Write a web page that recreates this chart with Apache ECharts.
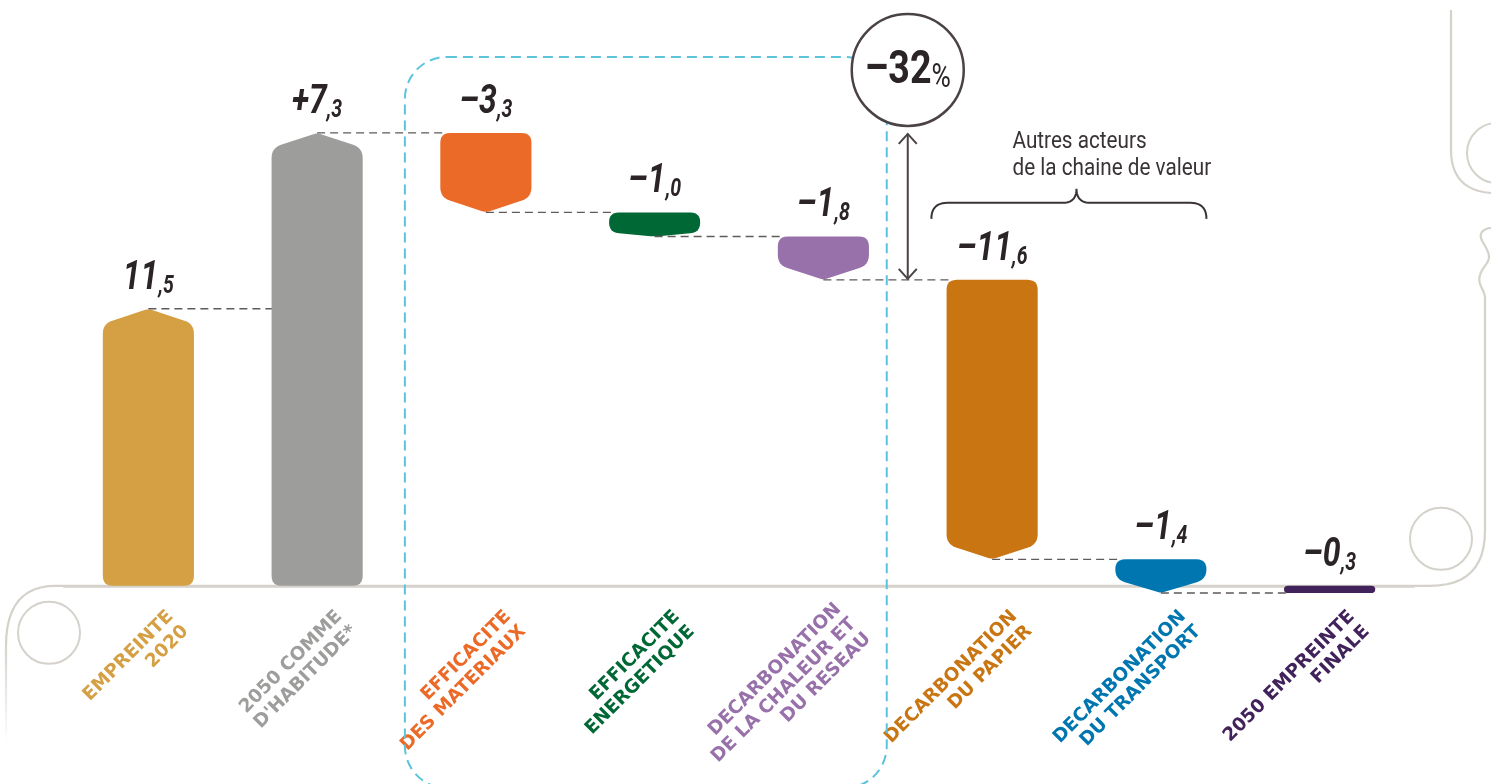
<!DOCTYPE html>
<html><head><meta charset="utf-8">
<script src="https://cdn.jsdelivr.net/npm/echarts@6/dist/echarts.min.js"></script>
<style>html,body{margin:0;padding:0;background:#fff;}#c{width:1491px;height:784px;}</style>
</head><body><div id="c"></div>
<script>
const categories = ['EMPREINTE\n2020', "2050 COMME\nD'HABITUDE*", 'EFFICACITE\nDES MATERIAUX', 'EFFICACITE\nENERGETIQUE', 'DECARBONATION\nDE LA CHALEUR ET\nDU RESEAU', 'DECARBONATION\nDU PAPIER', 'DECARBONATION\nDU TRANSPORT', '2050 EMPREINTE\nFINALE'];
const values = [11.5, 7.3, -3.3, -1.0, -1.8, -11.6, -1.4, -0.3];
// total: bar from 0 to value; cumul: increment drawn as a full bar from 0; delta: floating step
const kinds = ['total', 'cumul', 'delta', 'delta', 'delta', 'delta', 'delta', 'total'];
const barColors = ['#d5a044', '#9d9d9c', '#ec6a28', '#006834', '#9871aa', '#c97612', '#0076b0', '#41225a'];
const labelColors = ['#d5a044', '#9d9d9c', '#ec6a28', '#006834', '#9871aa', '#c97612', '#0076b0', '#41225a'];
const noteLines = ['Autres acteurs', 'de la chaine de valeur'];
const groupFirst = 2, groupLast = 4;      // materials / energy / heat group
const otherFirst = 5, otherLast = 6;      // other value-chain actors

// waterfall geometry from values
const starts = [], ends = [];
let run = 0;
values.forEach((v, i) => {
  if (kinds[i] === 'total') { starts.push(0); ends.push(v); run = v; }
  else if (kinds[i] === 'cumul') { run = Math.round((run + v) * 10) / 10; starts.push(0); ends.push(run); }
  else { starts.push(run); run = Math.round((run + v) * 10) / 10; ends.push(run); }
});
const data = values.map((v, i) => [i, starts[i], ends[i], i > 0 ? ends[i - 1] : 0]);

function fmt(i) {
  const v = values[i];
  const sign = v < 0 ? '–' : (kinds[i] !== 'total' ? '+' : '');
  const parts = Math.abs(v).toFixed(1).split('.');
  return '{a|' + sign + parts[0] + '}{b|,' + parts[1] + '}';
}

function quad(pts, p0, c, p1, n) {
  n = n || 6;
  for (let k = 1; k <= n; k++) {
    const t = k / n, a = (1 - t) * (1 - t), b = 2 * (1 - t) * t, q = t * t;
    pts.push([a * p0[0] + b * c[0] + q * p1[0], a * p0[1] + b * c[1] + q * p1[1]]);
  }
}
function cubic(pts, p0, c1, c2, p1, n) {
  n = n || 10;
  for (let k = 1; k <= n; k++) {
    const t = k / n, m = 1 - t;
    const a = m * m * m, b = 3 * m * m * t, c = 3 * m * t * t, d = t * t * t;
    pts.push([a * p0[0] + b * c1[0] + c * c2[0] + d * p1[0], a * p0[1] + b * c1[1] + c * c2[1] + d * p1[1]]);
  }
}
function pathPoints(cmds) {
  const pts = []; let cur = null;
  cmds.forEach(c => {
    if (c[0] === 'M' || c[0] === 'L') { cur = [c[1], c[2]]; pts.push(cur); }
    else if (c[0] === 'Q') { quad(pts, cur, [c[1], c[2]], [c[3], c[4]], 12); cur = [c[3], c[4]]; }
    else if (c[0] === 'C') { cubic(pts, cur, [c[1], c[2]], [c[3], c[4]], [c[5], c[6]], 12); cur = [c[5], c[6]]; }
  });
  return pts;
}

const chart = echarts.init(document.getElementById('c'));
const valueFont = 'Roboto';

chart.setOption({
  animation: false,
  backgroundColor: '#ffffff',
  grid: { left: 64, right: 77, top: 104, bottom: 170 },
  xAxis: {
    type: 'category', data: categories,
    axisLine: { show: true, onZero: true, lineStyle: { color: '#d5d1cb', width: 2.5 } },
    axisTick: { show: false },
    axisLabel: {
      interval: 0, rotate: 45, margin: 41, padding: [0, -42, 0, 0],
      fontFamily: 'DejaVu Sans', fontWeight: 'bold', fontSize: 18.5, lineHeight: 21,
      color: (val, idx) => labelColors[idx]
    }
  },
  yAxis: { type: 'value', min: -1, max: 20, show: false, splitLine: { show: false } },
  series: [{
    type: 'custom',
    data: data,
    renderItem: function (params, api) {
      const i = api.value(0), s = api.value(1), e = api.value(2), prev = api.value(3);
      const ps = api.coord([i, s]), pe = api.coord([i, e]);
      const band = api.size([1, 0])[0];
      const w = band * 0.54;
      const cx = ps[0], x0 = cx - w / 2, x1 = cx + w / 2;
      const yT = Math.min(ps[1], pe[1]), yB = Math.max(ps[1], pe[1]);
      const up = e > s;
      const h = yB - yT;
      const r = Math.min(10, h / 2);
      const d = Math.min(15, Math.max(0, h - 2 * r));
      const len = Math.hypot(w / 2, d) || 1;
      const ux = -(w / 2) / len, uy = d / len;
      const ra = 4;
      const P = [x1 + ux * r, yB - d + uy * r];
      const A1 = [cx - ux * ra, yB - uy * ra];
      const A2 = [2 * cx - A1[0], A1[1]];
      const P2 = [2 * cx - P[0], P[1]];
      const pts = [[x0, yT + r]];
      quad(pts, [x0, yT + r], [x0, yT], [x0 + r, yT]);
      pts.push([x1 - r, yT]);
      quad(pts, [x1 - r, yT], [x1, yT], [x1, yT + r]);
      pts.push([x1, yB - d - r]);
      quad(pts, [x1, yB - d - r], [x1, yB - d], P);
      pts.push(A1);
      quad(pts, A1, [cx, yB], A2, 3);
      pts.push(P2);
      quad(pts, P2, [x0, yB - d], [x0, yB - d - r]);
      const poly = up ? pts.map(p => [p[0], yT + yB - p[1]]) : pts;
      const children = [];
      if (i > 0) {
        const pc = api.coord([i - 1, prev]);
        children.push({
          type: 'line', shape: { x1: pc[0], y1: pc[1], x2: x0 + 2, y2: pc[1] },
          style: { stroke: '#5f5a5b', lineWidth: 1.3, lineDash: [8, 5] }
        });
      }
      children.push({ type: 'polygon', shape: { points: poly }, style: { fill: barColors[i] } });
      children.push({
        type: 'text', x: cx, y: yT - 10, scaleX: 0.78,
        style: {
          text: fmt(i), align: 'center', verticalAlign: 'bottom', fill: '#2b2426',
          rich: {
            a: { fontFamily: valueFont, fontWeight: 'bold', fontStyle: 'italic', fontSize: 41, lineHeight: 40, fill: '#2b2426', verticalAlign: 'bottom' },
            b: { fontFamily: valueFont, fontWeight: 'bold', fontStyle: 'italic', fontSize: 25, lineHeight: 29, fill: '#2b2426', verticalAlign: 'bottom' }
          }
        }
      });
      return { type: 'group', children: children };
    }
  }]
});

// annotations placed from the chart's own scales
function px(i, v) { return chart.convertToPixel({ gridIndex: 0 }, [i, v]); }
const peak = ends[1], afterGroup = ends[groupLast];
const pct = Math.round((afterGroup - peak) / peak * 100);
const band = px(1, 0)[0] - px(0, 0)[0];
const y0 = px(0, 0)[1];
const ax = (px(groupLast, 0)[0] + px(groupLast + 1, 0)[0]) / 2;
const yPeak = px(0, peak)[1], yAfter = px(0, afterGroup)[1];
const boxL = px(groupFirst, 0)[0] - 0.48 * band, boxR = ax - 21, boxT = yPeak - 76;
const circY = yPeak - 63;
const bL = px(otherFirst, 0)[0] - 0.36 * band, bR = px(otherLast, 0)[0] + 0.27 * band;
const bM = (px(otherFirst, 0)[0] + px(otherLast, 0)[0]) / 2;
const bY = px(otherFirst, ends[otherFirst - 1])[1] - 77;
const frame = '#d5d1cb';

const framePts = pathPoints([['M', 6, y0 + 60], ['Q', 6, y0, 56, y0], ['L', 1430, y0], ['Q', 1485, y0, 1485, y0 - 55], ['L', 1485, 298],
  ['C', 1485, 290, 1477, 285, 1480, 275], ['C', 1483, 265, 1492, 262, 1488, 252], ['C', 1484, 242, 1478, 238, 1482, 232], ['C', 1485, 228, 1491, 228, 1491, 228]]);
const topPts = pathPoints([['M', 1451, 10], ['L', 1451, 150], ['Q', 1451, 190, 1491, 193]]);
const bracePts = pathPoints([['M', bL, bY + 16], ['Q', bL, bY, bL + 16, bY], ['L', bM - 14, bY], ['Q', bM, bY, bM, bY - 14],
  ['Q', bM, bY, bM + 14, bY], ['L', bR - 16, bY], ['Q', bR, bY, bR, bY + 16]]);

chart.setOption({
  graphic: [
    { type: 'polyline', silent: true, z: 0, shape: { points: framePts }, style: { fill: null, stroke: frame, lineWidth: 2.2 } },
    { type: 'line', silent: true, z: 0, shape: { x1: 6, y1: y0 + 60, x2: 6, y2: y0 + 155 },
      style: { stroke: new echarts.graphic.LinearGradient(0, 0, 0, 1, [{ offset: 0, color: frame }, { offset: 1, color: '#ffffff' }]), lineWidth: 2.2 } },
    { type: 'polyline', silent: true, z: 0, shape: { points: topPts }, style: { fill: null, stroke: frame, lineWidth: 2.2 } },
    { type: 'circle', silent: true, shape: { cx: 49, cy: y0 + 47, r: 31 }, style: { fill: null, stroke: frame, lineWidth: 2 } },
    { type: 'circle', silent: true, shape: { cx: 1441, cy: y0 - 47, r: 31 }, style: { fill: null, stroke: frame, lineWidth: 2 } },
    { type: 'circle', silent: true, shape: { cx: 1497, cy: 153, r: 30 }, style: { fill: null, stroke: frame, lineWidth: 2 } },
    // dashed group box
    { type: 'rect', silent: true, z: 1,
      shape: { x: boxL, y: boxT, width: boxR - boxL, height: 788 - boxT, r: 42 },
      style: { fill: null, stroke: '#5bc4dc', lineWidth: 2, lineDash: [10, 6] } },
    // double arrow
    { type: 'line', silent: true, z: 5, shape: { x1: ax, y1: yPeak + 1, x2: ax, y2: yAfter - 1 }, style: { stroke: '#4a4244', lineWidth: 2 } },
    { type: 'polyline', silent: true, z: 5, shape: { points: [[ax - 9, yPeak + 11], [ax, yPeak + 1], [ax + 9, yPeak + 11]] }, style: { fill: null, stroke: '#4a4244', lineWidth: 2 } },
    { type: 'polyline', silent: true, z: 5, shape: { points: [[ax - 9, yAfter - 11], [ax, yAfter - 1], [ax + 9, yAfter - 11]] }, style: { fill: null, stroke: '#4a4244', lineWidth: 2 } },
    // circle with percentage
    { type: 'circle', silent: true, z: 6, shape: { cx: ax, cy: circY, r: 56 }, style: { fill: '#ffffff', stroke: '#4a4244', lineWidth: 2.5 } },
    { type: 'text', silent: true, z: 7, x: ax, y: circY + 2, scaleX: 0.8,
      style: { text: '{a|–' + Math.abs(pct) + '}{b|%}', align: 'center', verticalAlign: 'middle',
        rich: {
          a: { fontFamily: 'Roboto', fontWeight: 'bold', fontSize: 47, lineHeight: 46, fill: '#2b2426', verticalAlign: 'bottom' },
          b: { fontFamily: 'Roboto', fontWeight: 'normal', fontSize: 33, lineHeight: 40, fill: '#2b2426', verticalAlign: 'bottom' }
        } } },
    // brace and note
    { type: 'polyline', silent: true, z: 5, shape: { points: bracePts }, style: { fill: null, stroke: '#3a3335', lineWidth: 2 } },
    { type: 'text', silent: true, z: 5, x: bM - 64, y: bY - 47, scaleX: 0.9,
      style: { text: noteLines.join('\n'), align: 'left', verticalAlign: 'middle', fontFamily: 'Roboto', fontSize: 23, lineHeight: 27, fill: '#3a3335' } }
  ]
});
</script></body></html>
